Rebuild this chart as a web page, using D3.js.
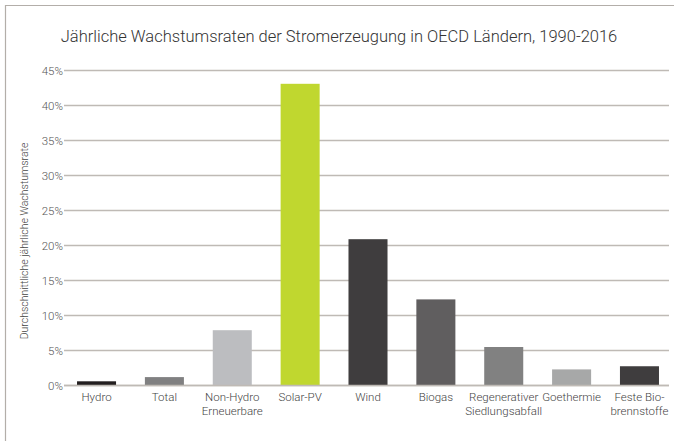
<!DOCTYPE html>
<html>
<head>
<meta charset="utf-8">
<script src="https://cdn.jsdelivr.net/npm/d3@7"></script>
<style>
  html, body { margin: 0; padding: 0; background: #fff; }
  svg { display: block; }
  text { font-family: Roboto, "Liberation Sans", Arial, sans-serif; font-weight: 300; }
</style>
</head>
<body>
<svg id="chart" width="674" height="441"></svg>
<script>
const categories = [
  ["Hydro"], ["Total"], ["Non-Hydro", "Erneuerbare"], ["Solar-PV"], ["Wind"],
  ["Biogas"], ["Regenerativer", "Siedlungsabfall"], ["Goethermie"], ["Feste Bio-", "brennstoffe"]
];
const values = [0.6, 1.2, 7.9, 43.1, 20.9, 12.3, 5.5, 2.3, 2.75];
const barColors = ["#231f20", "#808081", "#bcbdc0", "#c0d72f", "#3f3d3e", "#605e5f", "#818181", "#a7a8a8", "#3f3d3e"];
const yTicks = [0, 5, 10, 15, 20, 25, 30, 35, 40, 45];
const titleText = "Jährliche Wachstumsraten der Stromerzeugung in OECD Ländern, 1990-2016";
const yTitle = "Durchschnittliche jährliche Wachstumsrate";

const svg = d3.select("#chart");

// frame (top and left lines)
svg.append("line").attr("x1", 5).attr("x2", 674).attr("y1", 5.5).attr("y2", 5.5)
  .attr("stroke", "#b3aea9").attr("stroke-width", 1.2);
svg.append("line").attr("x1", 5.5).attr("x2", 5.5).attr("y1", 5).attr("y2", 441)
  .attr("stroke", "#b3aea9").attr("stroke-width", 1.2);

const y = d3.scaleLinear().domain([0, 45]).range([385.5, 70.5]);
const x = d3.scaleBand().domain(d3.range(categories.length))
  .range([62.6, 673.4]).paddingInner(0.425).paddingOuter(0.2125);

// gridlines
svg.append("g").selectAll("line").data(yTicks).join("line")
  .attr("x1", 64).attr("x2", 669)
  .attr("y1", d => y(d)).attr("y2", d => y(d))
  .attr("stroke", "#bfbab5").attr("stroke-width", 1.6);

// y tick labels
svg.append("g").selectAll("text").data(yTicks).join("text")
  .attr("x", 63).attr("y", d => y(d) + 4)
  .attr("text-anchor", "end")
  .attr("font-size", "11.5px").attr("fill", "#555")
  .text(d => d + "%");

// bars
svg.append("g").selectAll("rect").data(values).join("rect")
  .attr("x", (d, i) => x(i))
  .attr("width", x.bandwidth())
  .attr("y", d => y(d))
  .attr("height", d => y(0) - y(d))
  .attr("fill", (d, i) => barColors[i]);

// redraw baseline on top
svg.append("line").attr("x1", 64).attr("x2", 669).attr("y1", y(0)).attr("y2", y(0))
  .attr("stroke", "#bfbab5").attr("stroke-width", 1.6);

// x labels
const xl = svg.append("g").selectAll("text").data(categories).join("text")
  .attr("text-anchor", "middle")
  .attr("font-size", "11.5px").attr("fill", "#444");
xl.each(function(lines, i) {
  const t = d3.select(this);
  lines.forEach((ln, j) => {
    t.append("tspan").attr("x", x(i) + x.bandwidth() / 2).attr("y", 400.5 + j * 14.5).text(ln);
  });
});

// title
svg.append("text").attr("x", 339).attr("y", 41.5)
  .attr("text-anchor", "middle").attr("font-size", "16.5px").attr("fill", "#333")
  .text(titleText);

// y title
svg.append("text")
  .attr("transform", "translate(27.5,241) rotate(-90)")
  .attr("text-anchor", "middle").attr("font-size", "10.5px").attr("fill", "#444")
  .text(yTitle);
</script>
</body>
</html>
